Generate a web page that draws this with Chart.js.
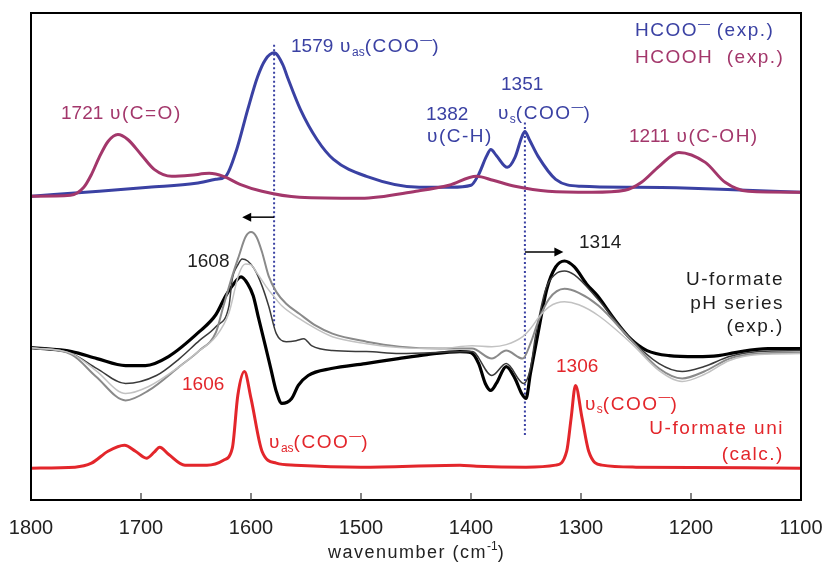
<!DOCTYPE html>
<html>
<head>
<meta charset="utf-8">
<title>U-formate IR spectra</title>
<script src="https://cdn.jsdelivr.net/npm/chart.js@4.4.1/dist/chart.umd.min.js"></script>
<style>
  html, body { margin: 0; padding: 0; background: #fff; }
  #wrap { width: 826px; height: 568px; }
</style>
</head>
<body>
<div id="wrap"><canvas id="chart" width="826" height="568"></canvas></div>
<script>
// x: wavenumber (cm-1), y: absorbance with vertical offsets (arb. units)
const xTicks = [1800, 1700, 1600, 1500, 1400, 1300, 1200, 1100];

// HCOO- (exp.)
const formateWn = [1800, 1738, 1693, 1650, 1632, 1623, 1613, 1603, 1594, 1587, 1579, 1571, 1567, 1555, 1540, 1525, 1495, 1447, 1418, 1400, 1393, 1386, 1382, 1377, 1367, 1360, 1354, 1351, 1347, 1339, 1323, 1300, 1250, 1200, 1150, 1100];
const formateAbs = [30.5, 31.0, 31.4, 31.8, 32.2, 32.5, 35.2, 39.2, 42.5, 44.2, 44.9, 43.7, 42.5, 39.2, 36.2, 34.2, 32.5, 31.4, 31.4, 31.6, 32.7, 34.5, 35.2, 34.6, 33.4, 34.4, 36.4, 37.0, 36.2, 34.5, 32.2, 31.5, 31.4, 31.3, 31.1, 30.9];

// HCOOH (exp.)
const acidWn = [1800, 1764, 1752, 1745, 1738, 1730, 1721, 1712, 1700, 1688, 1672, 1655, 1638, 1625, 1610, 1590, 1556, 1500, 1450, 1420, 1395, 1380, 1360, 1330, 1290, 1260, 1245, 1229, 1211, 1187, 1169, 1148, 1100];
const acidAbs = [30.5, 30.6, 31.4, 32.7, 34.4, 36.0, 36.7, 36.2, 34.7, 33.2, 32.5, 32.6, 32.8, 32.5, 31.7, 31.0, 30.4, 30.3, 31.0, 31.6, 32.5, 32.1, 31.5, 31.0, 30.9, 31.1, 31.9, 33.5, 34.9, 33.9, 31.9, 31.0, 30.9];

// U-formate pH series (exp.), four spectra
const phWnA = [1800, 1763, 1740, 1714, 1696, 1675, 1647, 1632, 1623, 1617, 1609, 1603, 1598, 1593, 1587, 1582, 1577, 1572, 1563, 1557, 1548, 1527, 1496, 1466, 1440, 1410, 1400, 1393, 1387, 1382, 1377, 1368, 1360, 1354, 1350, 1346, 1340, 1331, 1323, 1315, 1306, 1295, 1285, 1270, 1255, 1240, 1220, 1195, 1175, 1160, 1130, 1100];
const phAbsA = [15.3, 14.9, 14.2, 13.5, 13.5, 14.4, 16.9, 18.6, 20.5, 21.5, 22.4, 21.7, 20.5, 18.2, 15.5, 13.2, 10.9, 9.7, 10.2, 11.5, 12.5, 13.2, 13.7, 14.2, 14.6, 14.9, 14.8, 13.7, 11.7, 11.0, 11.7, 13.4, 12.2, 10.7, 10.2, 12.7, 16.2, 21.2, 23.4, 24.0, 23.4, 21.7, 20.5, 18.2, 16.2, 15.0, 14.5, 14.4, 14.5, 14.8, 15.2, 15.2];

const phWnB = [1800, 1763, 1740, 1714, 1686, 1665, 1647, 1632, 1620, 1617, 1612, 1608, 1603, 1597, 1590, 1584, 1577, 1568, 1559, 1552, 1545, 1526, 1495, 1465, 1399, 1381, 1368, 1352, 1346, 1341, 1332, 1323, 1315, 1306, 1285, 1255, 1229, 1208, 1188, 1165, 1138, 1100];
const phAbsB = [15.3, 14.7, 13.2, 11.7, 12.5, 14.2, 16.0, 17.4, 19.5, 22.2, 23.6, 24.2, 24.0, 23.2, 21.5, 19.5, 16.7, 15.9, 16.0, 16.2, 15.5, 15.0, 14.9, 14.7, 14.9, 12.5, 13.7, 11.7, 13.2, 16.7, 21.2, 22.7, 23.0, 22.6, 20.2, 16.2, 13.7, 12.9, 13.4, 14.4, 14.9, 15.0];

const phWnC = [1800, 1763, 1741, 1714, 1693, 1665, 1647, 1632, 1625, 1617, 1611, 1605, 1600, 1595, 1590, 1584, 1577, 1568, 1556, 1541, 1526, 1495, 1465, 1429, 1399, 1381, 1368, 1353, 1346, 1338, 1329, 1315, 1302, 1284, 1254, 1229, 1208, 1188, 1165, 1138, 1100];
const phAbsC = [15.3, 14.6, 12.4, 10.0, 11.0, 13.4, 15.0, 16.8, 19.5, 22.5, 24.5, 26.4, 26.9, 26.4, 24.9, 22.5, 20.9, 19.7, 18.7, 17.5, 16.7, 15.9, 15.4, 15.2, 15.2, 14.2, 15.0, 14.2, 15.7, 18.2, 20.2, 21.2, 20.8, 19.5, 16.0, 13.2, 12.2, 12.9, 14.2, 14.7, 14.8];

const phWnD = [1800, 1763, 1741, 1714, 1693, 1665, 1647, 1632, 1620, 1611, 1605, 1600, 1594, 1586, 1579, 1572, 1556, 1541, 1526, 1495, 1465, 1429, 1399, 1381, 1368, 1353, 1346, 1338, 1329, 1315, 1302, 1284, 1254, 1229, 1208, 1188, 1165, 1138, 1100];
const phAbsD = [15.3, 14.7, 13.0, 10.7, 11.4, 13.4, 15.0, 16.4, 18.8, 22.7, 23.7, 23.6, 22.7, 21.4, 20.4, 19.5, 18.2, 17.2, 16.4, 15.7, 15.3, 15.2, 15.5, 15.4, 15.6, 16.4, 17.2, 18.4, 19.4, 19.9, 19.6, 18.5, 15.7, 13.0, 11.9, 12.6, 14.0, 14.6, 14.7];

// U-formate uni (calc.)
const calcWn = [1800, 1760, 1745, 1730, 1715, 1705, 1695, 1688, 1683, 1675, 1660, 1640, 1625, 1617, 1612, 1606, 1600, 1590, 1577, 1560, 1500, 1410, 1395, 1350, 1323, 1313, 1309, 1305, 1299, 1293, 1281, 1250, 1100];
const calcAbs = [3.2, 3.3, 3.7, 4.9, 5.5, 4.9, 4.2, 4.8, 5.3, 4.6, 3.5, 3.5, 4.0, 5.2, 10.5, 12.9, 10.2, 4.9, 3.7, 3.5, 3.3, 3.5, 3.4, 3.3, 3.5, 4.9, 8.2, 11.5, 8.2, 4.9, 3.5, 3.3, 3.2];

// peak marker lines (dotted) and shift arrows
const markerWn = [1579, 1351];
const markerTop = [45.7, 37.9];
const markerBottom = [17.4, 6.5];
const arrowFrom = [1579, 1351];
const arrowTo = [1608, 1316];
const arrowAt = [28.4, 24.9];

const BLUE = '#3a41a3';
const MAGENTA = '#a3376b';
const RED = '#e3262b';
const INK = '#1e1e1e';

function pts(xs, ys) {
  return xs.map(function (x, i) { return { x: x, y: ys[i] }; });
}

function spectrum(xs, ys, color, width) {
  return {
    data: pts(xs, ys),
    borderColor: color,
    borderWidth: width,
    pointRadius: 0,
    fill: false,
    tension: 0.4,
    cubicInterpolationMode: 'monotone'
  };
}

const datasets = [
  spectrum(acidWn, acidAbs, MAGENTA, 3),
  spectrum(formateWn, formateAbs, BLUE, 3),
  spectrum(phWnD, phAbsD, '#c2c2c2', 1.5),
  spectrum(phWnC, phAbsC, '#8a8a8a', 2),
  spectrum(phWnB, phAbsB, '#3a3a3a', 1.5),
  spectrum(phWnA, phAbsA, '#000000', 3.2),
  spectrum(calcWn, calcAbs, RED, 3)
];
markerWn.forEach(function (w, i) {
  datasets.push({
    data: [{ x: w, y: markerTop[i] }, { x: w, y: markerBottom[i] }],
    borderColor: BLUE,
    borderWidth: 2,
    borderDash: [2, 2.5],
    pointRadius: 0,
    fill: false
  });
});

// labels: [parts, wavenumber, y, align, color]
const labels = [
  [[['1579 '], ['υ'], ['as', 'sub'], ['(COO'], ['—', 'sup'], [')']], 1563.6, 45.5, 'left', BLUE],
  [[['1721 υ(C=O)']], 1772.7, 38.8, 'left', MAGENTA],
  [[['HCOO'], ['—', 'sup'], [' (exp.)']], 1250.9, 47.1, 'left', BLUE],
  [[['HCOOH  (exp.)']], 1250.9, 44.4, 'left', MAGENTA],
  [[['1351']], 1372.7, 41.7, 'left', BLUE],
  [[['υ'], ['s', 'sub'], ['(COO'], ['—', 'sup'], [')']], 1375.5, 38.8, 'left', BLUE],
  [[['1382']], 1440.9, 38.7, 'left', BLUE],
  [[['υ(C-H)']], 1440, 36.5, 'left', BLUE],
  [[['1211 υ(C-OH)']], 1256.4, 36.5, 'left', MAGENTA],
  [[['1608']], 1658, 23.9, 'left', INK],
  [[['1314']], 1301.8, 25.8, 'left', INK],
  [[['U-formate']], 1115.5, 22.1, 'right', INK],
  [[['pH series']], 1115.5, 19.7, 'right', INK],
  [[['(exp.)']], 1115.5, 17.4, 'right', INK],
  [[['1606']], 1662.7, 11.6, 'left', RED],
  [[['υ'], ['as', 'sub'], ['(COO'], ['—', 'sup'], [')']], 1583.6, 5.7, 'left', RED],
  [[['1306']], 1322.7, 13.4, 'left', RED],
  [[['υ'], ['s', 'sub'], ['(COO'], ['—', 'sup'], [')']], 1296.4, 9.6, 'left', RED],
  [[['U-formate uni']], 1115.5, 7.2, 'right', RED],
  [[['(calc.)']], 1115.5, 4.5, 'right', RED]
];

const LABEL_SIZE = 19;
const FONT = '"Liberation Sans", Arial, sans-serif';

// split a label into runs: digits are set tight, letters a little wider
function runs(parts) {
  var out = [];
  parts.forEach(function (p) {
    if (p[1]) { out.push({ t: p[0], kind: p[1], sp: 0 }); return; }
    p[0].split(/(\d+)/).forEach(function (s) {
      if (!s) return;
      out.push({ t: s, kind: '', sp: /^\d+$/.test(s) ? 0 : 1.5 });
    });
  });
  return out;
}

function drawRich(ctx, parts, x, y, align, color, size) {
  var list = runs(parts);
  var total = 0;
  list.forEach(function (r) {
    ctx.font = (r.kind ? Math.round(size * 0.64) : size) + 'px ' + FONT;
    ctx.letterSpacing = r.sp + 'px';
    r.w = ctx.measureText(r.t).width;
    total += r.w;
  });
  var cx = align === 'right' ? x - total : x;
  ctx.fillStyle = color;
  ctx.textBaseline = 'middle';
  ctx.textAlign = 'left';
  list.forEach(function (r) {
    ctx.font = (r.kind ? Math.round(size * 0.64) : size) + 'px ' + FONT;
    ctx.letterSpacing = r.sp + 'px';
    var dy = r.kind === 'sub' ? size * 0.3 : (r.kind === 'sup' ? -size * 0.33 : 0);
    ctx.fillText(r.t, cx, y + dy);
    cx += r.w;
  });
  ctx.letterSpacing = '0px';
}

const decorPlugin = {
  id: 'decor',
  afterDatasetsDraw: function (chart) {
    var ctx = chart.ctx;
    var a = chart.chartArea;
    var xs = chart.scales.x;
    var ys = chart.scales.y;
    ctx.save();

    // frame and inward ticks
    ctx.strokeStyle = '#000';
    ctx.lineWidth = 2;
    ctx.strokeRect(a.left, a.top, a.right - a.left, a.bottom - a.top);
    ctx.lineWidth = 1.2;
    ctx.strokeStyle = '#333';
    xTicks.forEach(function (t) {
      var px = xs.getPixelForValue(t);
      if (px <= a.left + 2 || px >= a.right - 2) return;
      ctx.beginPath();
      ctx.moveTo(px, a.bottom);
      ctx.lineTo(px, a.bottom - 7);
      ctx.stroke();
    });

    // shift arrows
    ctx.strokeStyle = '#000';
    ctx.fillStyle = '#000';
    ctx.lineWidth = 1.5;
    arrowFrom.forEach(function (w, i) {
      var x1 = xs.getPixelForValue(w);
      var x2 = xs.getPixelForValue(arrowTo[i]);
      var py = ys.getPixelForValue(arrowAt[i]);
      var dir = x2 > x1 ? 1 : -1;
      ctx.beginPath();
      ctx.moveTo(x1, py);
      ctx.lineTo(x2 - dir * 6, py);
      ctx.stroke();
      ctx.beginPath();
      ctx.moveTo(x2, py);
      ctx.lineTo(x2 - dir * 9, py - 4.5);
      ctx.lineTo(x2 - dir * 9, py + 4.5);
      ctx.closePath();
      ctx.fill();
    });

    // annotations
    labels.forEach(function (l) {
      drawRich(ctx, l[0], xs.getPixelForValue(l[1]), ys.getPixelForValue(l[2]), l[3], l[4], LABEL_SIZE);
    });

    // axis title
    drawRich(ctx, [['wavenumber (cm'], ['-1', 'sup'], [')']], (a.left + a.right) / 2 - 88, 553, 'left', '#222', 18);
    ctx.restore();
  }
};

new Chart(document.getElementById('chart'), {
  type: 'line',
  data: { datasets: datasets },
  options: {
    responsive: false,
    animation: false,
    layout: { padding: { left: 31, right: 25, top: 13, bottom: 12 } },
    plugins: { legend: { display: false }, tooltip: { enabled: false } },
    scales: {
      x: {
        type: 'linear',
        reverse: true,
        min: 1100,
        max: 1800,
        afterBuildTicks: function (scale) {
          scale.ticks = xTicks.map(function (v) { return { value: v }; });
        },
        afterFit: function (scale) {
          scale.paddingLeft = 0;
          scale.paddingRight = 0;
        },
        grid: { display: false, drawTicks: false },
        border: { display: false },
        ticks: {
          padding: 16,
          color: '#222',
          maxRotation: 0,
          autoSkip: false,
          font: { family: FONT, size: 20 },
          callback: function (v) { return String(v); }
        }
      },
      y: {
        type: 'linear',
        min: 0,
        max: 48.9,
        display: false
      }
    }
  },
  plugins: [decorPlugin]
});
</script>
</body>
</html>
